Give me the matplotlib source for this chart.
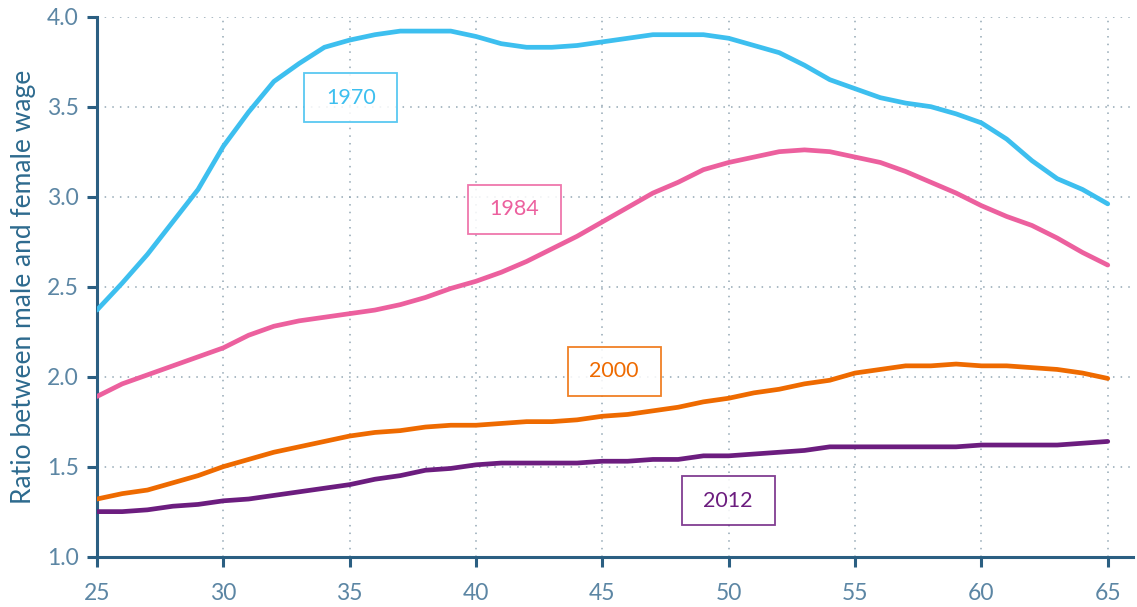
import matplotlib.pyplot as plt
from matplotlib.patches import Rectangle
import numpy as np

plt.rcParams['font.family'] = ['Lato', 'DejaVu Sans']

# data: ratio of male to female wage by age
ages = np.arange(25, 66)
ratio_1970 = [2.37, 2.52, 2.68, 2.86, 3.04, 3.28, 3.47, 3.64, 3.74, 3.83,
              3.87, 3.90, 3.92, 3.92, 3.92, 3.89, 3.85, 3.83, 3.83, 3.84,
              3.86, 3.88, 3.90, 3.90, 3.90, 3.88, 3.84, 3.80, 3.73, 3.65,
              3.60, 3.55, 3.52, 3.50, 3.46, 3.41, 3.32, 3.20, 3.10, 3.04,
              2.96]
ratio_1984 = [1.89, 1.96, 2.01, 2.06, 2.11, 2.16, 2.23, 2.28, 2.31, 2.33,
              2.35, 2.37, 2.40, 2.44, 2.49, 2.53, 2.58, 2.64, 2.71, 2.78,
              2.86, 2.94, 3.02, 3.08, 3.15, 3.19, 3.22, 3.25, 3.26, 3.25,
              3.22, 3.19, 3.14, 3.08, 3.02, 2.95, 2.89, 2.84, 2.77, 2.69,
              2.62]
ratio_2000 = [1.32, 1.35, 1.37, 1.41, 1.45, 1.50, 1.54, 1.58, 1.61, 1.64,
              1.67, 1.69, 1.70, 1.72, 1.73, 1.73, 1.74, 1.75, 1.75, 1.76,
              1.78, 1.79, 1.81, 1.83, 1.86, 1.88, 1.91, 1.93, 1.96, 1.98,
              2.02, 2.04, 2.06, 2.06, 2.07, 2.06, 2.06, 2.05, 2.04, 2.02,
              1.99]
ratio_2012 = [1.25, 1.25, 1.26, 1.28, 1.29, 1.31, 1.32, 1.34, 1.36, 1.38,
              1.40, 1.43, 1.45, 1.48, 1.49, 1.51, 1.52, 1.52, 1.52, 1.52,
              1.53, 1.53, 1.54, 1.54, 1.56, 1.56, 1.57, 1.58, 1.59, 1.61,
              1.61, 1.61, 1.61, 1.61, 1.61, 1.62, 1.62, 1.62, 1.62, 1.63,
              1.64]

years = ['1970', '1984', '2000', '2012']
series = [ratio_1970, ratio_1984, ratio_2000, ratio_2012]
colors = ['#3DBFEF', '#EC609E', '#EE6A00', '#6C1D7F']
# label box centres (age, ratio)
label_x = [35.04, 41.52, 45.47, 49.98]
label_y = [3.55, 2.93, 2.03, 1.31]

axis_col = '#2B5F82'
tick_col = '#5C86A4'
grid_col = '#93A7B4'

fig = plt.figure(figsize=(11.37, 6.07), dpi=100)
ax = fig.add_axes([0.0853, 0.083, 0.9112, 0.8895])

for vals, c in zip(series, colors):
    ax.plot(ages, vals, color=c, linewidth=3.4, solid_capstyle='round',
            solid_joinstyle='round', zorder=3)

# boxed year labels
box_w, box_h = 3.68, 0.272
for lab, x, y, c in zip(years, label_x, label_y, colors):
    ax.add_patch(Rectangle((x - box_w / 2, y - box_h / 2), box_w, box_h,
                           facecolor='white', edgecolor=c, alpha=0.85,
                           linewidth=1.3, zorder=4))
    ax.text(x, y, lab, color=c, fontsize=15.5, ha='center', va='center',
            zorder=5)

ax.set_xlim(25, 66)
ax.set_ylim(1.0, 4.0)
ax.set_xticks(np.arange(25, 66, 5))
ax.set_yticks(np.arange(1.0, 4.01, 0.5))
ax.yaxis.set_major_formatter(plt.FormatStrFormatter('%.1f'))

ax.grid(True, color=grid_col, linestyle=(0, (1, 4)), linewidth=1.1)
ax.set_axisbelow(True)

for s in ['top', 'right']:
    ax.spines[s].set_visible(False)
for s in ['left', 'bottom']:
    ax.spines[s].set_color(axis_col)
    ax.spines[s].set_linewidth(2.2)

ax.tick_params(axis='both', colors=axis_col, labelcolor=tick_col,
               length=7, width=2.2, labelsize=16.5)
ax.tick_params(axis='y', pad=6)
ax.tick_params(axis='x', pad=12)

ax.set_ylabel('Ratio between male and female wage', fontsize=19,
              color='#2D6A8E', labelpad=8)

fig.savefig('out.png', dpi=100, facecolor='white')
